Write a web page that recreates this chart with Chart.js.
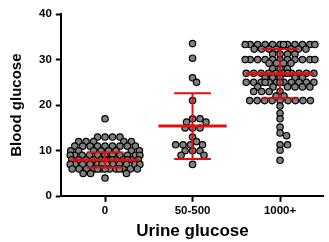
<!DOCTYPE html>
<html>
<head>
<meta charset="utf-8">
<script src="https://cdn.jsdelivr.net/npm/chart.js"></script>
<style>
  html, body { margin: 0; padding: 0; background: #fff; }
</style>
</head>
<body>
<canvas id="glucoseChart" width="329" height="242"></canvas>
<script>
  const groups = ["0", "50-500", "1000+"];

  // blood glucose readings per urine glucose group
  const urine0 = [
    17,
    13, 13, 13, 13,
    12, 12, 12, 12, 12,
    11, 11, 11, 11, 11, 11, 11, 11, 11,
    10, 10, 10, 10, 10, 10, 10, 10,
    9, 9, 9, 9, 9, 9, 9, 9, 9, 9, 9,
    8, 8, 8, 8, 8, 8, 8, 8, 8, 8, 8, 8, 8,
    7, 7, 7, 7, 7, 7, 7, 7, 7, 7, 7, 7,
    6, 6, 6, 6, 6, 6, 6, 6, 6, 6, 6, 6, 6,
    5, 5, 5,
    4
  ];
  const urine50to500 = [
    33.5, 30.3, 26, 25, 21, 17, 17, 16.3, 16.3, 15, 15, 15,
    13, 12, 11.3, 11.3, 11.3, 11.3, 10, 10, 10, 9, 9, 7
  ];
  const urine1000plus = [
    33.3, 33.3, 33.3, 33.3, 33.3, 33.3, 33.3, 33.3, 33.3, 33.3, 33.3, 33.3,
    32.3, 32.3, 32.3, 32.3, 32.3, 32.3, 32.3,
    31.2, 31.2, 31.2, 31.2,
    30, 30, 30, 30, 30, 30, 30, 30, 30, 30, 30,
    29.2, 29.2, 29.2, 29.2,
    28, 28, 28,
    27, 27, 27, 27, 27, 27, 27, 27, 27, 27, 27,
    26, 26, 26, 26, 26,
    25, 25, 25, 25, 25, 25, 25, 25, 25, 25, 25, 25,
    24, 24, 24, 24, 24, 24,
    23, 23, 23, 23,
    22, 22,
    21, 21, 21, 21, 21, 21, 21, 21, 21,
    19.8, 18.2, 17, 15.2, 13.9, 13.3, 11.3, 11.3, 10.1, 7.9
  ];
  const groupValues = [urine0, urine50to500, urine1000plus];

  // mean and SD bars
  const means = [7.95, 15.4, 26.9];
  const sds = [1.65, 7.2, 5.4];

  const DOT_GAP = 7.5;    // px between dot centres
  const Y_WEIGHT = 0.7;   // rows close in value push each other sideways
  const MAX_SPREAD = 35;  // px either side of the group centre
  const STEP = 0.5;

  // simple beeswarm: put each dot as near the centre as it fits
  function swarm(values, center, xs, ys) {
    const placed = [];
    const cx = xs.getPixelForValue(center);
    const sorted = [...values].sort((a, b) => b - a);
    return sorted.map(v => {
      const py = ys.getPixelForValue(v);
      let best = 0, bestGap = -1;
      const n = Math.round(2 * MAX_SPREAD / STEP);
      for (let k = 0; k <= n; k++) {
        const dx = (k % 2 ? 1 : -1) * Math.ceil(k / 2) * STEP;
        let gap = Infinity;
        placed.forEach(p => {
          gap = Math.min(gap, Math.hypot(p.x - dx, (p.y - py) / Y_WEIGHT));
        });
        if (gap >= DOT_GAP) { best = dx; bestGap = gap; break; }
        if (gap > bestGap) { best = dx; bestGap = gap; }
      }
      placed.push({ x: best, y: py });
      return { x: xs.getValueForPixel(cx + best), y: v };
    });
  }

  const meanSdBars = {
    id: "meanSdBars",
    afterDatasetsDraw(chart) {
      const { ctx, scales: { x, y } } = chart;
      ctx.save();
      ctx.strokeStyle = "#dd1111";
      means.forEach((m, i) => {
        const cx = x.getPixelForValue(i);
        const top = y.getPixelForValue(m + sds[i]);
        const bot = y.getPixelForValue(m - sds[i]);
        const halfMean = x.getPixelForValue(i + 0.39) - cx;
        const halfCap = x.getPixelForValue(i + 0.21) - cx;
        ctx.lineWidth = 2;
        ctx.beginPath();
        ctx.moveTo(cx, top); ctx.lineTo(cx, bot);
        ctx.moveTo(cx - halfCap, top); ctx.lineTo(cx + halfCap, top);
        ctx.moveTo(cx - halfCap, bot); ctx.lineTo(cx + halfCap, bot);
        ctx.stroke();
        const my = y.getPixelForValue(m);
        ctx.lineWidth = 3;
        ctx.beginPath();
        ctx.moveTo(cx - halfMean, my); ctx.lineTo(cx + halfMean, my);
        ctx.stroke();
      });
      ctx.restore();
    }
  };

  const FONT = "'Liberation Sans', Arial, sans-serif";
  const tickFont = { family: FONT, size: 11.5, weight: "bold" };

  const chart = new Chart(document.getElementById("glucoseChart"), {
    type: "scatter",
    data: {
      datasets: groups.map(g => ({
        label: g,
        data: [],
        pointRadius: 3.2,
        pointBorderWidth: 1.2,
        pointBackgroundColor: "#808080",
        pointBorderColor: "#000"
      }))
    },
    options: {
      responsive: false,
      animation: false,
      layout: { padding: { left: 7.5, right: 4, top: 14, bottom: 0 } },
      plugins: { legend: { display: false }, tooltip: { enabled: false } },
      scales: {
        x: {
          type: "linear",
          min: -0.5,
          max: 2.5,
          afterBuildTicks: axis => { axis.ticks = groups.map((g, i) => ({ value: i })); },
          ticks: { callback: v => groups[v], color: "#000", font: tickFont, padding: 2 },
          grid: { drawOnChartArea: false, tickLength: 5.5, tickWidth: 2, tickColor: "#000" },
          border: { color: "#000", width: 2 },
          title: {
            display: true, text: "Urine glucose", color: "#000",
            font: { family: FONT, size: 17, weight: "bold" },
            padding: { top: 2, bottom: 0 }
          }
        },
        y: {
          min: 0,
          max: 40,
          ticks: { stepSize: 10, color: "#000", font: tickFont, padding: 4 },
          grid: { drawOnChartArea: false, tickLength: 5.5, tickWidth: 2, tickColor: "#000" },
          border: { color: "#000", width: 2 },
          title: {
            display: true, text: "Blood glucose", color: "#000",
            font: { family: FONT, size: 15, weight: "bold" },
            padding: { top: 0, bottom: 9.5 }
          }
        }
      }
    },
    plugins: [meanSdBars]
  });

  groupValues.forEach((vals, i) => {
    chart.data.datasets[i].data = swarm(vals, i, chart.scales.x, chart.scales.y);
  });
  chart.update("none");
</script>
</body>
</html>
